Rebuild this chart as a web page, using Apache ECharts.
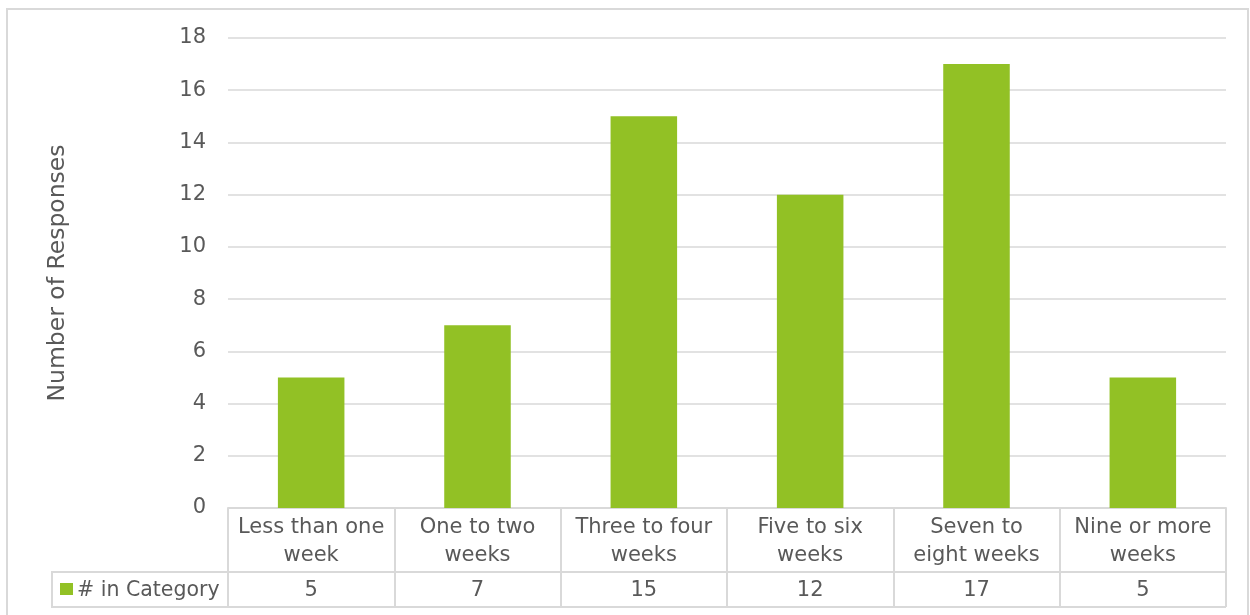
<!DOCTYPE html>
<html>
<head>
<meta charset="utf-8">
<script src="https://cdn.jsdelivr.net/npm/echarts@6/dist/echarts.min.js"></script>
<style>
  html, body { margin: 0; padding: 0; background: #fff; }
  #chart { width: 1250px; height: 615px; }
</style>
</head>
<body>
<div id="chart"></div>
<script>
// data
const categories = ['Less than one\nweek', 'One to two\nweeks', 'Three to four\nweeks', 'Five to six\nweeks', 'Seven to\neight weeks', 'Nine or more\nweeks']
const counts = [5, 7, 15, 12, 17, 5]
const seriesName = '# in Category'
const yTicks = { min: 0, max: 18, interval: 2 }

// layout
const FONT = '"DejaVu Sans", sans-serif'
const TEXT = '#595959'
const LINE = '#d9d9d9'
const GREEN = '#92C125'
const FS = 21
const gridLeft = 228
const gridRight = 24
const gridTop = 38
const axisY = 508
const row1 = 64 // header row height
const row2 = 35 // values row height

const myChart = echarts.init(document.getElementById('chart'))

const option = {
  animation: false,
  textStyle: { fontFamily: FONT },
  grid: {
    left: gridLeft,
    right: gridRight,
    top: gridTop,
    bottom: 615 - axisY
  },
  xAxis: [
    {
      type: 'category',
      data: categories,
      axisLine: { show: true, lineStyle: { color: LINE, width: 2 } },
      axisTick: { show: true, interval: 0, length: row1, lineStyle: { color: LINE, width: 2 } },
      axisLabel: {
        interval: 0,
        color: TEXT,
        fontSize: FS,
        lineHeight: 28,
        margin: 6,
        align: 'center'
      }
    },
    {
      type: 'category',
      position: 'bottom',
      offset: row1,
      data: categories,
      axisLine: { show: true, lineStyle: { color: LINE, width: 2 } },
      axisTick: { show: true, interval: 0, length: row2, lineStyle: { color: LINE, width: 2 } },
      axisLabel: {
        interval: 0,
        color: TEXT,
        fontSize: FS,
        margin: 8,
        formatter: (v, i) => String(counts[i])
      }
    }
  ],
  yAxis: {
    type: 'value',
    min: yTicks.min,
    max: yTicks.max,
    interval: yTicks.interval,
    name: 'Number of Responses',
    nameLocation: 'middle',
    nameGap: 158,
    nameTextStyle: { color: TEXT, fontSize: 23.5 },
    axisLine: { show: false },
    axisTick: { show: false },
    axisLabel: { color: TEXT, fontSize: FS, margin: 22, padding: [3, 0, 0, 0] },
    splitLine: { lineStyle: { color: LINE, width: 1.5 } }
  },
  series: [
    {
      name: seriesName,
      type: 'bar',
      data: counts,
      barWidth: '40%',
      itemStyle: { color: GREEN }
    }
  ],
  graphic: [
    // outer chart border
    {
      type: 'rect',
      shape: { x: 7, y: 9, width: 1241, height: 620 },
      style: { fill: 'none', stroke: LINE, lineWidth: 2 },
      silent: true
    },
    // legend cell of the data table
    {
      type: 'rect',
      shape: { x: 52, y: axisY + row1, width: gridLeft - 52, height: row2 },
      style: { fill: 'none', stroke: LINE, lineWidth: 2 },
      silent: true
    },
    // bottom line of the table
    {
      type: 'line',
      shape: { x1: gridLeft, y1: axisY + row1 + row2, x2: 1250 - gridRight, y2: axisY + row1 + row2 },
      style: { stroke: LINE, lineWidth: 2 },
      silent: true
    },
    {
      type: 'rect',
      shape: { x: 60, y: axisY + row1 + 11, width: 13, height: 12 },
      style: { fill: GREEN },
      silent: true
    },
    {
      type: 'text',
      x: 77,
      y: axisY + row1 + row2 / 2 + 1,
      style: { text: seriesName, fill: TEXT, font: '20.5px ' + FONT, verticalAlign: 'middle' },
      silent: true
    }
  ]
}

myChart.setOption(option)
</script>
</body>
</html>
